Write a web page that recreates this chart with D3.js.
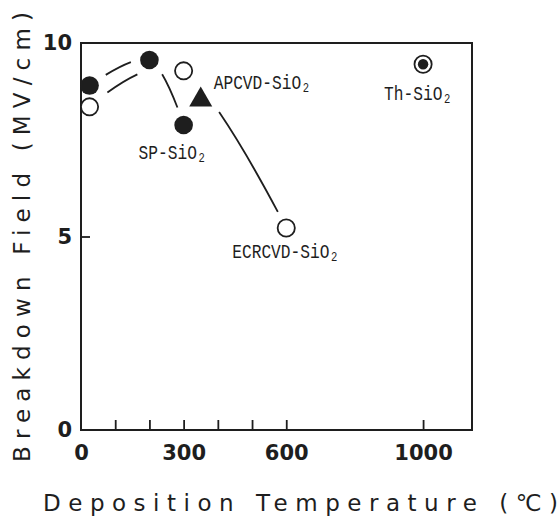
<!DOCTYPE html>
<html>
<head>
<meta charset="utf-8">
<script src="https://cdn.jsdelivr.net/npm/d3@7"></script>
<style>
  body { margin: 0; background: #fff; }
</style>
</head>
<body>
<div id="chart-area"></div>
<script>
// data
var spTemps = [25, 200, 300];
var spField = [8.9, 9.56, 7.88];
var ecrTemps = [25, 300, 600];
var ecrField = [8.35, 9.28, 5.22];
var apTemps = [350];
var apField = [8.53];
var thTemps = [1000];
var thField = [9.45];

var xTickMarks = [100, 200, 300, 400, 500, 600, 1000];
var xTickLabels = [0, 300, 600, 1000];
var yTickMarks = [5];
var yTickLabels = [0, 5, 10];

var ink = "#1e1e1e";

var svg = d3.select("#chart-area").append("svg")
    .attr("width", 560)
    .attr("height", 517);

var x = d3.scaleLinear().domain([0, 1143]).range([81, 472]);
var y = d3.scaleLinear().domain([0, 10]).range([430, 43]);

// tick marks (inward)
svg.append("g")
    .attr("transform", "translate(0,430)")
    .call(d3.axisBottom(x).tickValues(xTickMarks).tickSize(-10).tickFormat(""))
    .call(g => g.select(".domain").remove())
    .selectAll("line").attr("stroke", ink).attr("stroke-width", 1.8);

svg.append("g")
    .attr("transform", "translate(81,0)")
    .call(d3.axisLeft(y).tickValues(yTickMarks).tickSize(-9).tickFormat(""))
    .call(g => g.select(".domain").remove())
    .selectAll("line").attr("stroke", ink).attr("stroke-width", 1.8);

// tick labels
var xl = svg.append("g")
    .attr("transform", "translate(0,430)")
    .call(d3.axisBottom(x).tickValues(xTickLabels).tickSize(0).tickPadding(15).tickFormat(d3.format("d")));
xl.select(".domain").remove();
xl.selectAll("text")
    .attr("fill", ink)
    .style("font-family", "'DejaVu Sans', sans-serif")
    .style("font-weight", "bold")
    .style("font-size", "21px");

var yl = svg.append("g")
    .attr("transform", "translate(81,0)")
    .call(d3.axisLeft(y).tickValues(yTickLabels).tickSize(0).tickPadding(9).tickFormat(d3.format("d")));
yl.select(".domain").remove();
yl.selectAll("text")
    .attr("fill", ink)
    .style("font-family", "'DejaVu Sans', sans-serif")
    .style("font-weight", "bold")
    .style("font-size", "21px");

// frame
svg.append("rect")
    .attr("x", x(0)).attr("y", y(10))
    .attr("width", x(1143) - x(0)).attr("height", y(0) - y(10))
    .attr("fill", "none").attr("stroke", ink).attr("stroke-width", 2);

// marker positions, used for gaps in the curves
var marks = [];
spTemps.forEach((t, i) => marks.push({x: x(t), y: y(spField[i]), gap: 19}));
ecrTemps.forEach((t, i) => marks.push({x: x(t), y: y(ecrField[i]), gap: 19}));
apTemps.forEach((t, i) => marks.push({x: x(t), y: y(apField[i]), gap: 22}));

var line = d3.line()
    .x(d => x(d[0]))
    .y(d => y(d[1]))
    .curve(d3.curveCardinal.tension(0));

function gapDash(path) {
    var L = path.getTotalLength();
    var step = 0.5;
    var runs = [];
    for (var s = 0; s <= L; s += step) {
        var p = path.getPointAtLength(s);
        var v = marks.every(m => Math.hypot(p.x - m.x, p.y - m.y) > m.gap);
        if (runs.length && runs[runs.length - 1].v === v) runs[runs.length - 1].len += step;
        else runs.push({v: v, len: step});
    }
    // drop tiny visible bits
    runs.forEach(r => { if (r.v && r.len < 4) r.v = false; });
    var merged = [];
    runs.forEach(r => {
        if (merged.length && merged[merged.length - 1].v === r.v) merged[merged.length - 1].len += r.len;
        else merged.push({v: r.v, len: r.len});
    });
    var arr = [];
    if (!merged[0].v) arr.push(0);
    merged.forEach(r => arr.push(r.len.toFixed(1)));
    if (arr.length % 2 === 1) arr.push(L);
    return arr.join(",");
}

[d3.zip(spTemps, spField), d3.zip(ecrTemps, ecrField)].forEach(pts => {
    var p = svg.append("path")
        .attr("d", line(pts))
        .attr("fill", "none")
        .attr("stroke", ink)
        .attr("stroke-width", 1.8);
    p.attr("stroke-dasharray", gapDash(p.node()));
});

// markers
svg.selectAll(".sp").data(spTemps).enter()
    .append("circle")
        .attr("cx", d => x(d))
        .attr("cy", (d, i) => y(spField[i]))
        .attr("r", 9.3)
        .attr("fill", ink);

svg.selectAll(".ecr").data(ecrTemps).enter()
    .append("circle")
        .attr("cx", d => x(d))
        .attr("cy", (d, i) => y(ecrField[i]))
        .attr("r", 8.6)
        .attr("fill", "#fff")
        .attr("stroke", ink)
        .attr("stroke-width", 1.8);

svg.selectAll(".ap").data(apTemps).enter()
    .append("path")
        .attr("d", d3.symbol(d3.symbolTriangle, 229))
        .attr("transform", (d, i) => "translate(" + x(d) + "," + y(apField[i]) + ")")
        .attr("fill", ink);

thTemps.forEach((t, i) => {
    svg.append("circle")
        .attr("cx", x(t)).attr("cy", y(thField[i])).attr("r", 8.6)
        .attr("fill", "#fff").attr("stroke", ink).attr("stroke-width", 1.8);
    svg.append("circle")
        .attr("cx", x(t)).attr("cy", y(thField[i])).attr("r", 5.2)
        .attr("fill", ink);
});

// point labels: condensed mono text with a small subscript 2
function label(txt, px, py) {
    var t = svg.append("text")
        .attr("transform", "translate(" + px + "," + py + ") scale(0.81,1)")
        .attr("fill", ink)
        .style("font-family", "'Liberation Mono', monospace")
        .style("font-size", "20px");
    t.append("tspan").text(txt);
    t.append("tspan")
        .attr("dx", 2).attr("dy", 3)
        .style("font-size", "13px")
        .text("2");
}

label("SP-SiO", x(spTemps[2]) - 45, y(spField[2]) + 34);
label("APCVD-SiO", x(apTemps[0]) + 13, y(apField[0]) - 11);
label("ECRCVD-SiO", x(ecrTemps[2]) - 54, y(ecrField[2]) + 30);
label("Th-SiO", x(thTemps[0]) - 39, y(thField[0]) + 36);

// axis titles
svg.append("text")
    .attr("x", 43).attr("y", 511)
    .attr("textLength", 515)
    .attr("lengthAdjust", "spacing")
    .attr("fill", ink)
    .style("font-family", "'DejaVu Sans', sans-serif")
    .style("font-size", "23px")
    .text("Deposition Temperature (℃)");

svg.append("text")
    .attr("transform", "translate(30,462) rotate(-90)")
    .attr("textLength", 450)
    .attr("lengthAdjust", "spacing")
    .attr("fill", ink)
    .style("font-family", "'DejaVu Sans', sans-serif")
    .style("font-size", "23px")
    .text("Breakdown Field (MV/cm)");
</script>
</body>
</html>
